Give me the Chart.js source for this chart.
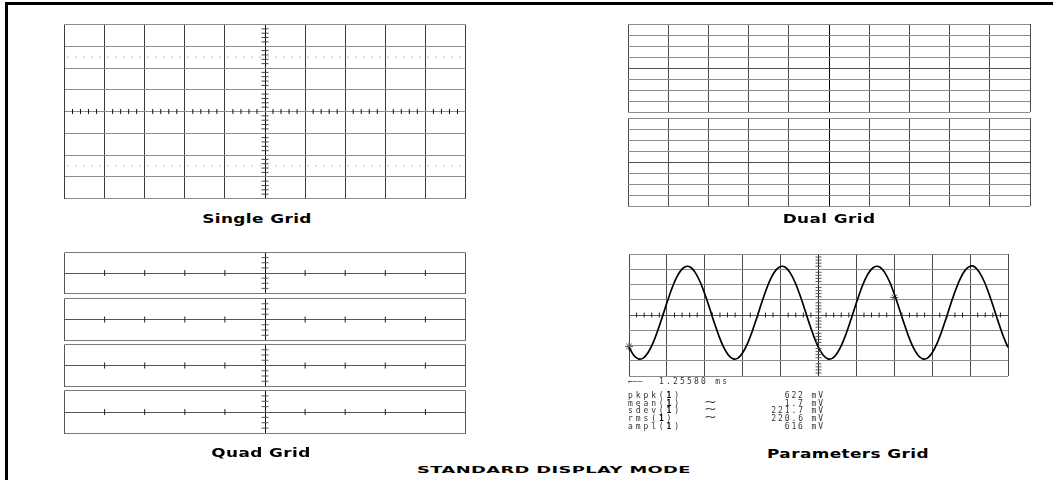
<!DOCTYPE html>
<html><head><meta charset="utf-8">
<script src="https://cdn.jsdelivr.net/npm/chart.js@4/dist/chart.umd.min.js"></script>
<style>
html,body{margin:0;padding:0;background:#fff;}
#stage{position:relative;width:1053px;height:480px;overflow:hidden;background:#fff;}
.fr{position:absolute;background:#000;}
canvas{position:absolute;}
.title{position:absolute;font-family:"DejaVu Sans",sans-serif;font-weight:bold;white-space:nowrap;color:#000;line-height:1;}
.meas{position:absolute;font-family:"DejaVu Sans Mono",monospace;font-size:8px;line-height:8px;color:#333;white-space:pre;}
</style></head>
<body><div id="stage">
<div class="fr" style="left:5px;top:2px;width:1048px;height:3px"></div>
<div class="fr" style="left:5px;top:2px;width:3px;height:478px"></div>
</div>
<script>
// ---------- data ----------
const panelTitles = ['Single Grid', 'Dual Grid', 'Quad Grid', 'Parameters Grid'];
const modeTitle = 'STANDARD DISPLAY MODE';
const waveStep = 0.125; // divisions between samples
const waveY = [
 -2.13,-2.64,-2.88,-2.83,-2.48,-1.88,-1.08,-0.16,0.80,1.69,2.43,2.94,3.18,3.13,2.78,2.18,1.38,0.46,-0.50,-1.39,
 -2.13,-2.64,-2.88,-2.83,-2.48,-1.88,-1.08,-0.16,0.80,1.69,2.43,2.94,3.18,3.13,2.78,2.18,1.38,0.46,-0.50,-1.39,
 -2.13,-2.64,-2.88,-2.83,-2.48,-1.88,-1.08,-0.16,0.80,1.69,2.43,2.94,3.18,3.13,2.78,2.18,1.38,0.46,-0.50,-1.39,
 -2.13,-2.64,-2.88,-2.83,-2.48,-1.88,-1.08,-0.16,0.80,1.69,2.43,2.96,3.20,3.15,2.78,2.18,1.38,0.46,-0.50,-1.39,
 -2.13
];
const triggerX = [0, 7.0];
const triggerY = [-2.06, 1.15];
const edgeMarkX = [-0.08, 10.08, 10.08];
const edgeMarkY = [0.84, 0.25, 0.84];
const timebaseLabel = '1.25580 ms';
const measNames = ['pkpk', 'mean', 'sdev', 'rms', 'ampl'];
const measChannel = ['1', '1', '1', '1', '1'];
const measStat = [false, true, true, true, false];
const measValues = ['622 mV', '1.7 mV', '221.7 mV', '220.6 mV', '616 mV'];

// ---------- helpers ----------
const stage = document.getElementById('stage');
const P = 4;
function minor(min, max, per, skipMajor) {
  const out = [];
  const n = Math.round((max - min) * per);
  for (let i = 0; i <= n; i++) {
    if (skipMajor && i % per === 0) continue;
    out.push(+(min + i / per).toFixed(4));
  }
  return out;
}
function axis(min, max, step, colorFn, widthFn, isX) {
  return {
    type: 'linear', min, max,
    ticks: { display: false, stepSize: step, autoSkip: false },
    grid: { drawTicks: false, color: colorFn, lineWidth: widthFn },
    border: { display: false },
    afterFit: s => { if (isX) s.height = 0; else s.width = 0; }
  };
}
function tickSet(xs, ys, rot, r, color) {
  return { data: xs.map((x, i) => ({ x, y: ys[i] })), pointStyle: 'line', rotation: rot,
    pointRadius: r, pointBorderColor: color, pointBorderWidth: 1, showLine: false, clip: false };
}
function mk(box, xAxis, yAxis, datasets) {
  const c = document.createElement('canvas');
  const w = box.r - box.l + 2 * P, h = box.b - box.t + 2 * P;
  c.width = w; c.height = h;
  c.style.left = (box.l - P) + 'px'; c.style.top = (box.t - P) + 'px';
  c.style.width = w + 'px'; c.style.height = h + 'px';
  stage.appendChild(c);
  return new Chart(c, {
    type: 'scatter',
    data: { datasets },
    options: {
      responsive: false, animation: false, events: [],
      layout: { padding: P },
      plugins: { legend: { display: false }, tooltip: { enabled: false } },
      elements: { point: { hoverRadius: 0 } },
      scales: { x: xAxis, y: yAxis }
    }
  });
}
const tv = c => (c.tick ? c.tick.value : null);

// ---------- Single grid ----------
{
  const hx = minor(0, 10, 5, true);
  const vy = minor(-4, 4, 5, true);
  mk({ l: 64, r: 466, t: 24, b: 199 },
    axis(0, 10, 1, c => tv(c) === 5 ? '#111' : '#3c3c3c', 1, true),
    axis(-4, 4, 1, c => '#8c8c8c', 1, false),
    [
      { data: [{ x: 0, y: 2.5 }, { x: 10, y: 2.5 }], showLine: true, borderColor: '#8a8a8a', borderWidth: 1, borderDash: [1, 7], borderDashOffset: -3, pointRadius: 0 },
      { data: [{ x: 0, y: -2.5 }, { x: 10, y: -2.5 }], showLine: true, borderColor: '#8a8a8a', borderWidth: 1, borderDash: [1, 7], borderDashOffset: -3, pointRadius: 0 },
      tickSet(hx, hx.map(() => 0), 90, 2.5, '#111'),
      tickSet(vy.map(() => 5), vy, 0, 3.5, '#444')
    ]);
}

// ---------- Dual grid ----------
[{ t: 24, b: 112 }, { t: 118, b: 206 }].forEach(p => {
  mk({ l: 628, r: 1030, t: p.t, b: p.b },
    axis(0, 10, 1, c => tv(c) === 5 ? '#000' : '#4a4a4a', 1, true),
    axis(-4, 4, 1, c => tv(c) === 0 ? '#505050' : '#8c8c8c', 1, false),
    []);
});

// ---------- Quad grid ----------
[{ t: 252, b: 294 }, { t: 298, b: 341 }, { t: 344, b: 387 }, { t: 390, b: 434 }].forEach(p => {
  const mx = [1, 2, 3, 4, 6, 7, 8, 9];
  const vy = minor(-1, 1, 4, true);
  mk({ l: 64, r: 466, t: p.t, b: p.b },
    axis(0, 10, 5, c => tv(c) === 5 ? '#111' : '#555', 1, true),
    axis(-1, 1, 1, c => tv(c) === 0 ? '#555' : '#7a7a7a', 1, false),
    [
      tickSet(mx, mx.map(() => 0), 90, 3, '#222'),
      tickSet(vy.map(() => 5), vy, 0, 3.5, '#555')
    ]);
});

// ---------- Parameters grid ----------
{
  const hx = minor(0, 10, 5, true);
  const vy = minor(-4, 4, 5, true);
  mk({ l: 628, r: 1009, t: 253, b: 377 },
    axis(0, 10, 1, c => tv(c) === 5 ? '#222' : '#4a4a4a', 1, true),
    axis(-4, 4, 1, c => tv(c) === 0 ? '#555' : '#8c8c8c', 1, false),
    [
      tickSet(hx, hx.map(() => 0), 90, 2.5, '#222'),
      tickSet(vy.map(() => 5), vy, 0, 3, '#555'),
      { data: waveY.map((y, i) => ({ x: i * waveStep, y })), showLine: true, borderColor: '#000', borderWidth: 1.7, pointRadius: 0, tension: 0.35, clip: false },
      { data: triggerX.map((x, i) => ({ x, y: triggerY[i] })), pointStyle: 'star', pointRadius: 4, pointBorderColor: '#555', pointBorderWidth: 1, showLine: false, clip: false },
      tickSet(edgeMarkX, edgeMarkY, 0, 2, '#333')
    ]);
}

// ---------- Text ----------
function addText(txt, cx, cy, fs, ls, sx) {
  const d = document.createElement('div');
  d.className = 'title';
  d.textContent = txt;
  d.style.fontSize = fs + 'px';
  d.style.letterSpacing = ls + 'px';
  d.style.left = cx + 'px'; d.style.top = cy + 'px';
  d.style.transform = 'translate(-50%,-50%) scaleX(' + sx + ')';
  stage.appendChild(d);
}
addText(panelTitles[0], 257, 218, 13, 0.3, 1.3);
addText(panelTitles[1], 829, 218, 13, 0.3, 1.3);
addText(panelTitles[2], 261, 452, 13, 0.3, 1.3);
addText(panelTitles[3], 848, 453, 13, 0.3, 1.3);
addText(modeTitle, 554, 470, 9.5, 0.2, 1.88);

function addMeas(html, left, top, ls, right) {
  const d = document.createElement('div');
  d.className = 'meas';
  d.innerHTML = html;
  d.style.letterSpacing = ls + 'px';
  d.style.top = top + 'px';
  if (right !== undefined) { d.style.right = (1053 - right) + 'px'; d.style.textAlign = 'right'; }
  else d.style.left = left + 'px';
  stage.appendChild(d);
  return d;
}
addMeas('\u2190\u2014\u2014', 628, 378, 0);
addMeas(timebaseLabel, 659, 378, 2.2);
measNames.forEach((n, i) => {
  const y = 392 + i * 7.7;
  addMeas(n + '(<b style="color:#000">' + measChannel[i] + '</b>)', 628, y, 2.9);
  if (measStat[i]) addMeas('<span style="display:inline-block;font-size:11px;transform:scaleX(1.7)">~</span>', 707, y - 1, 0);
  addMeas(measValues[i], 0, y, 1.9, 825);
});
</script>
</body></html>
